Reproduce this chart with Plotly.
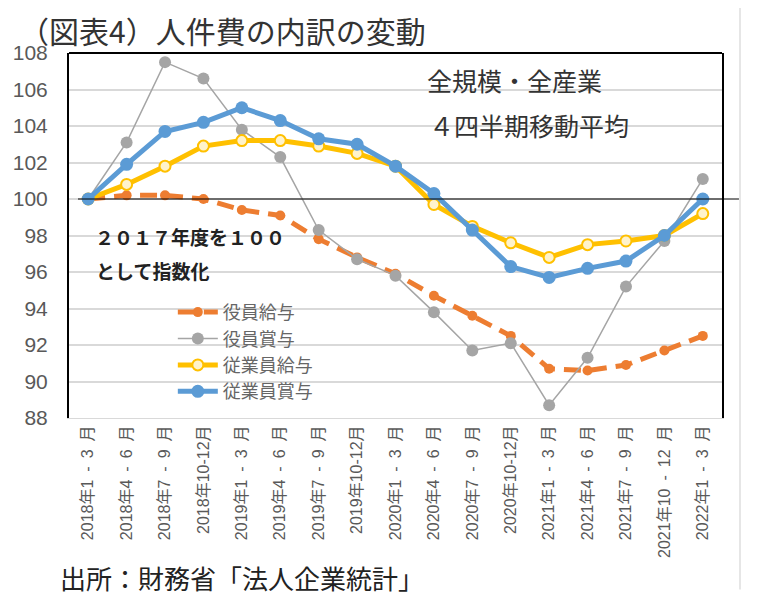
import plotly.graph_objects as go

E = "\u2002"
categories = ["2018年1" + E + "-" + E + "3" + E + "月", "2018年4" + E + "-" + E + "6" + E + "月",
              "2018年7" + E + "-" + E + "9" + E + "月", "2018年10-12月",
              "2019年1" + E + "-" + E + "3" + E + "月", "2019年4" + E + "-" + E + "6" + E + "月",
              "2019年7" + E + "-" + E + "9" + E + "月", "2019年10-12月",
              "2020年1" + E + "-" + E + "3" + E + "月", "2020年4" + E + "-" + E + "6" + E + "月",
              "2020年7" + E + "-" + E + "9" + E + "月", "2020年10-12月",
              "2021年1" + E + "-" + E + "3" + E + "月", "2021年4" + E + "-" + E + "6" + E + "月",
              "2021年7" + E + "-" + E + "9" + E + "月", "2021年10" + E + "-" + E + "12" + E + "月",
              "2022年1" + E + "-" + E + "3" + E + "月"]
yakuin_kyuyo = [100, 100.2, 100.2, 100.0, 99.4, 99.1, 97.8, 96.8, 95.9, 94.7, 93.6, 92.5,
                90.7, 90.6, 90.9, 91.7, 92.5]
yakuin_shoyo = [100, 103.1, 107.5, 106.6, 103.8, 102.3, 98.3, 96.7, 95.8, 93.8, 91.7, 92.1,
                88.7, 91.3, 95.2, 97.7, 101.1]
jugyoin_kyuyo = [100, 100.8, 101.8, 102.9, 103.2, 103.2, 102.9, 102.5, 101.8, 99.7, 98.5, 97.6,
                 96.8, 97.5, 97.7, 98.0, 99.2]
jugyoin_shoyo = [100, 101.9, 103.7, 104.2, 105.0, 104.3, 103.3, 103.0, 101.8, 100.3, 98.3, 96.3,
                 95.7, 96.2, 96.6, 98.0, 100.0]
y_ticks = [88, 90, 92, 94, 96, 98, 100, 102, 104, 106, 108]

x = list(range(len(categories)))
JP = "Noto Sans CJK JP"

fig = go.Figure()
fig.add_trace(go.Scatter(x=x, y=yakuin_kyuyo, name="役員給与", mode="lines+markers",
                         line=dict(color="#ED7D31", width=5, dash="17px,9px"),
                         marker=dict(symbol="circle", size=10, color="#ED7D31")))
fig.add_trace(go.Scatter(x=x, y=yakuin_shoyo, name="役員賞与", mode="lines+markers",
                         line=dict(color="#A5A5A5", width=1.5),
                         marker=dict(symbol="circle", size=12, color="#A5A5A5")))
fig.add_trace(go.Scatter(x=x, y=jugyoin_kyuyo, name="従業員給与", mode="lines+markers",
                         line=dict(color="#FFC000", width=5),
                         marker=dict(symbol="circle", size=11, color="#FFF3CC",
                                     line=dict(color="#FFC000", width=2))))
fig.add_trace(go.Scatter(x=x, y=jugyoin_shoyo, name="従業員賞与", mode="lines+markers",
                         line=dict(color="#5B9BD5", width=5),
                         marker=dict(symbol="circle", size=13, color="#5B9BD5")))

fig.update_layout(
    width=744, height=590,
    margin=dict(l=61, r=30, t=45, b=180),
    paper_bgcolor="white", plot_bgcolor="white",
    showlegend=True,
    legend=dict(x=0.159, y=0.34, xanchor="left", yanchor="top",
                font=dict(family=JP, size=18, color="#666666"),
                bgcolor="rgba(0,0,0,0)", tracegroupgap=0, itemwidth=40),
    xaxis=dict(range=[-0.5, 16.5], tickmode="array", tickvals=x, ticktext=categories,
               tickangle=-90, tickfont=dict(family="Liberation Sans, " + JP, size=16, color="#595959"),
               showgrid=False, showline=True, linecolor="#D9D9D9", linewidth=1,
               ticks="", zeroline=False, fixedrange=True, automargin=False),
    yaxis=dict(range=[88, 108], tickmode="array", tickvals=y_ticks,
               tickfont=dict(family="Liberation Sans Narrow, Liberation Sans", size=21, color="#595959"),
               showgrid=True, gridcolor="#D9D9D9", gridwidth=1.5,
               showline=True, mirror=True, linecolor="black", linewidth=2,
               ticks="", ticklabelstandoff=15, zeroline=False, fixedrange=True, automargin=False),
)

# top border of plot frame
fig.add_shape(type="line", xref="paper", yref="paper", x0=0, x1=1, y0=1, y1=1,
              line=dict(color="black", width=2))
# reference line at 100
fig.add_shape(type="line", xref="paper", yref="y", x0=0.0138, x1=1.026, y0=100, y1=100,
              line=dict(color="black", width=1))
# light image border on right
fig.add_shape(type="line", xref="paper", yref="paper", x0=1.0276, x1=1.0276, y0=1.13, y1=-0.47,
              line=dict(color="#E6E6E6", width=2))

fig.add_annotation(text="（図表4）人件費の内訳の変動", xref="paper", yref="paper",
                   x=-0.078, y=1.063, xanchor="left", yanchor="middle", showarrow=False,
                   borderpad=0, font=dict(family=JP, size=30, color="#333333"))
fig.add_annotation(text="全規模・全産業", xref="paper", yref="paper",
                   x=0.545, y=0.926, xanchor="left", yanchor="middle", showarrow=False,
                   font=dict(family=JP, size=25, color="#333333"))
fig.add_annotation(text="４四半期移動平均", xref="paper", yref="paper",
                   x=0.548, y=0.803, xanchor="left", yanchor="middle", showarrow=False,
                   font=dict(family=JP, size=25, color="#333333"))
fig.add_annotation(text="<b>２０１７年度を１００</b>", xref="paper", yref="paper",
                   x=0.037, y=0.496, xanchor="left", yanchor="middle", showarrow=False,
                   font=dict(family=JP, size=19, color="#222222"))
fig.add_annotation(text="<b>として指数化</b>", xref="paper", yref="paper",
                   x=0.038, y=0.403, xanchor="left", yanchor="middle", showarrow=False,
                   font=dict(family=JP, size=19, color="#222222"))
fig.add_annotation(text="出所：財務省「法人企業統計」", xref="paper", yref="paper",
                   x=-0.017, y=-0.438, xanchor="left", yanchor="middle", showarrow=False,
                   font=dict(family=JP, size=26, color="#222222"))

fig.write_html("out.html")
